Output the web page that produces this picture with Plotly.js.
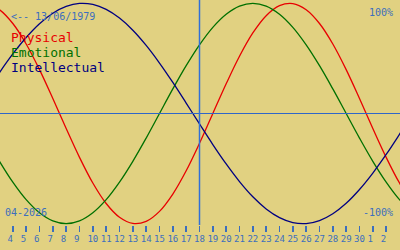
<!DOCTYPE html>
<html>
<head>
<meta charset="utf-8">
<script src="https://cdn.plot.ly/plotly-3.0.1.min.js"></script>
<style>
html,body{margin:0;padding:0;background:#E1D181;}
#chart{width:400px;height:250px;}
</style>
</head>
<body>
<div id="chart"></div>
<script>
// Days (April 2026; 31 = May 1, 32 = May 2 ...)
const days = [2,3,4,5,6,7,8,9,10,11,12,13,14,15,16,17,18,19,20,21,22,23,24,25,26,27,28,29,30,31,32,33,34];
const physical = [0.998,0.942,0.817,0.631,0.398,0.136,-0.136,-0.398,-0.631,-0.817,-0.942,-0.998,-0.979,-0.888,-0.731,-0.520,-0.270,0,0.270,0.520,0.731,0.888,0.979,0.998,0.942,0.817,0.631,0.398,0.136,-0.136,-0.398,-0.631,-0.817];
const emotional = [-0.223,-0.434,-0.623,-0.782,-0.901,-0.975,-1,-0.975,-0.901,-0.782,-0.623,-0.434,-0.223,0,0.223,0.434,0.623,0.782,0.901,0.975,1,0.975,0.901,0.782,0.623,0.434,0.223,0,-0.223,-0.434,-0.623,-0.782,-0.901];
const intellectual = [0.189,0.372,0.541,0.690,0.815,0.910,0.972,0.999,0.990,0.945,0.866,0.756,0.618,0.458,0.282,0.095,-0.095,-0.282,-0.458,-0.618,-0.756,-0.866,-0.945,-0.990,-0.999,-0.972,-0.910,-0.815,-0.690,-0.541,-0.372,-0.189,0];
const tickDays = [4,5,6,7,8,9,10,11,12,13,14,15,16,17,18,19,20,21,22,23,24,25,26,27,28,29,30,31,32];
const tickLabels = ['4','5','6','7','8','9','10','11','12','13','14','15','16','17','18','19','20','21','22','23','24','25','26','27','28','29','30','1','2'];
const today = 18;
const seriesNames = ['Physical','Emotional','Intellectual'];
const seriesColors = ['#E80000','#007000','#000080'];
const birthLabel = '<-- 13/06/1979';
const monthLabel = '04-2026';

const bg = '#E1D181';
const axisBlue = '#3C6EBE';
const lineBlue = '#2F66C8';
const mono = 'DejaVu Sans Mono, Liberation Mono, monospace';

const series = [physical, emotional, intellectual];
const traces = series.map((s, i) => ({
  x: days, y: s, type: 'scatter', mode: 'lines',
  line: {color: seriesColors[i], width: 1.3, shape: 'spline', smoothing: 1},
  hoverinfo: 'skip', showlegend: false
}));

const H = 225;
function py(p){ return 1 - p / H; }

const annotations = [
  {text: birthLabel.replace('<','&lt;'), x: 10/400, y: py(16.5), font: {size: 10, color: axisBlue}},
  {text: seriesNames[0], x: 10/400, y: py(37.5), font: {size: 13, color: seriesColors[0]}},
  {text: seriesNames[1], x: 10/400, y: py(52.5), font: {size: 13, color: seriesColors[1]}},
  {text: seriesNames[2], x: 10/400, y: py(68), font: {size: 13, color: seriesColors[2]}},
  {text: '100%', x: 394/400, y: py(12), xanchor: 'right', font: {size: 10, color: axisBlue}},
  {text: '-100%', x: 394/400, y: py(212.5), xanchor: 'right', font: {size: 10, color: axisBlue}},
  {text: monthLabel, x: 4/400, y: py(212), font: {size: 10, color: axisBlue}}
].map(a => Object.assign({xref: 'paper', yref: 'paper', showarrow: false, xanchor: 'left', yanchor: 'middle', borderpad: 0}, a, {font: Object.assign({family: mono}, a.font)}));

const layout = {
  width: 400, height: 250,
  margin: {l: 0, r: 0, t: 0, b: 25, pad: 0},
  paper_bgcolor: bg, plot_bgcolor: bg,
  xaxis: {
    range: [3.0375, 33.0375], showgrid: false, zeroline: false, showline: false,
    tickmode: 'array', tickvals: tickDays,
    ticktext: tickLabels.map(t => t.length === 1 ? t + '\u00a0' : t),
    ticks: 'outside', ticklen: 6, tickwidth: 1.5, tickcolor: axisBlue, tickangle: 0,
    ticklabelstandoff: -1,
    tickfont: {family: mono, size: 9, color: axisBlue}
  },
  yaxis: {range: [-1.012, 1.0302], visible: false, showgrid: false, zeroline: false},
  shapes: [
    {type: 'line', xref: 'paper', yref: 'y', x0: 0, x1: 1, y0: 0, y1: 0, line: {color: lineBlue, width: 1}},
    {type: 'line', xref: 'x', yref: 'paper', x0: today, x1: today, y0: 0, y1: 1, line: {color: '#3070D8', width: 1.5}}
  ],
  annotations: annotations
};

Plotly.newPlot('chart', traces, layout, {staticPlot: true, displayModeBar: false});
</script>
</body>
</html>
